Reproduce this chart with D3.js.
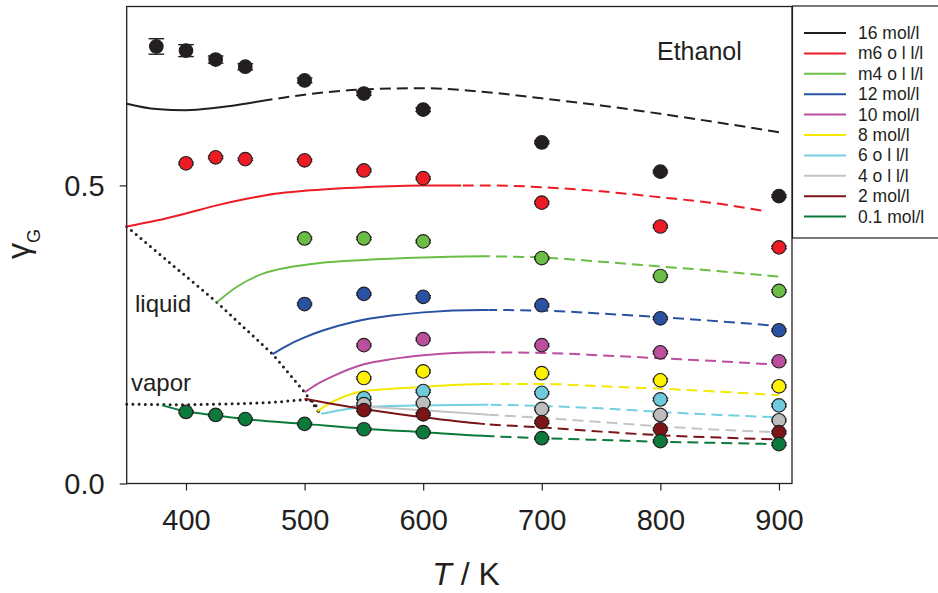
<!DOCTYPE html>
<html><head><meta charset="utf-8">
<script src="https://cdn.jsdelivr.net/npm/d3@7"></script>
<style>
body{margin:0;background:#fff;}
text{font-family:"Liberation Sans",Arial,sans-serif;fill:#231f20;}
</style></head>
<body><svg id="c" width="938" height="593"></svg>
<script>
// ---------- data ----------
const temps = [375,400,425,450,500,550,600,700,800,900];
const labels = ["16 mol/l","m6 o l l/l","m4 o l l/l","12 mol/l","10 mol/l","8 mol/l","6 o l l/l","4 o l l/l","2 mol/l","0.1 mol/l"];
const colors = ["#231f20","#ed1c24","#6abd45","#2a52a3","#bb4f9e","#fff200","#6fcadc","#bdbdbd","#7b1517","#0b7a3b"];
const lineColors = ["#231f20","#ed1c24","#6abd45","#2a52a3","#bb4f9e","#f5e800","#74cfe0","#c4c4c4","#7b1517","#0b7a3b"];

const pBlack   = [0.733,0.726,0.711,0.699,0.676,0.654,0.627,0.572,0.523,0.482];
const pRed     = [null,0.537,0.547,0.544,0.542,0.525,0.512,0.471,0.431,0.396];
const pGreen   = [null,null,null,null,0.411,0.411,0.406,0.378,0.348,0.323];
const pBlue    = [null,null,null,null,0.301,0.318,0.313,0.299,0.277,0.257];
const pMagenta = [null,null,null,null,null,0.232,0.242,0.232,0.220,0.205];
const pYellow  = [null,null,null,null,null,0.177,0.188,0.185,0.173,0.163];
const pCyan    = [null,null,null,null,null,0.143,0.155,0.152,0.141,0.131];
const pGray    = [null,null,null,null,null,0.133,0.135,0.125,0.115,0.106];
const pDarkRed = [null,null,null,null,null,0.123,0.116,0.103,0.091,0.086];
const pDkGreen = [null,0.120,0.115,0.108,0.100,0.091,0.086,0.076,0.071,0.066];

const eBlack   = [0.013,0.010,0.006,0.005,0.004,0.003,0.003,0.002,0.002,0.002];
const eOther   = [0.002,0.002,0.002,0.002,0.002,0.002,0.002,0.002,0.002,0.002];

const cBlack   = [[350,0.637],[375,0.628],[400,0.626],[425,0.630],[450,0.637],[475,0.645],[500,0.652],[550,0.661],[600,0.663],[650,0.657],[700,0.646],[750,0.634],[800,0.620],[850,0.605],[900,0.589]];
const cRed     = [[350,0.431],[375,0.441],[400,0.453],[425,0.466],[450,0.477],[475,0.486],[500,0.491],[550,0.497],[600,0.500],[650,0.500],[700,0.497],[750,0.490],[800,0.480],[850,0.469],[890,0.456]];
const cGreen   = [[426,0.304],[443,0.330],[465,0.352],[485,0.362],[513,0.370],[550,0.375],[600,0.379],[650,0.381],[700,0.379],[750,0.372],[800,0.364],[850,0.356],[900,0.347]];
const cBlue    = [[473,0.217],[485,0.231],[500,0.245],[516,0.257],[541,0.271],[575,0.282],[600,0.287],[650,0.291],[700,0.290],[750,0.285],[800,0.279],[850,0.272],[900,0.264]];
const cMagenta = [[500,0.153],[510,0.166],[525,0.181],[550,0.200],[575,0.209],[600,0.215],[650,0.220],[700,0.219],[750,0.215],[800,0.210],[850,0.205],[900,0.199]];
const cYellow  = [[511,0.121],[520,0.133],[530,0.143],[547,0.154],[575,0.159],[600,0.162],[650,0.167],[700,0.167],[750,0.163],[800,0.159],[850,0.154],[900,0.148]];
const cCyan    = [[514,0.117],[530,0.123],[550,0.128],[600,0.131],[650,0.132],[700,0.130],[750,0.126],[800,0.120],[850,0.115],[900,0.111]];
const cGray    = [[540,0.130],[550,0.129],[600,0.123],[650,0.116],[700,0.110],[750,0.103],[800,0.096],[850,0.090],[900,0.086]];
const cDarkRed = [[500,0.142],[525,0.133],[550,0.125],[600,0.111],[650,0.100],[700,0.094],[750,0.087],[800,0.081],[850,0.077],[900,0.074]];
const cDkGreen = [[380,0.131],[400,0.121],[425,0.114],[450,0.108],[500,0.100],[550,0.092],[600,0.086],[650,0.080],[700,0.076],[750,0.073],[800,0.070],[850,0.068],[900,0.066]];

const splits = [465,632,655,655,655,655,655,655,652,658];

const liquidLine = [[350,0.431],[426,0.304],[473,0.217],[500,0.153],[513,0.117]];
const vaporLine  = [[350,0.133],[400,0.132],[450,0.134],[480,0.137],[500,0.141],[508,0.137],[513,0.117]];

const xTicks = [400,500,600,700,800,900];
const yTicks = [0.0,0.5];

const points = [pBlack,pRed,pGreen,pBlue,pMagenta,pYellow,pCyan,pGray,pDarkRed,pDkGreen];
const errs   = [eBlack,eOther,eOther,eOther,eOther,eOther,eOther,eOther,eOther,eOther];
const curves = [cBlack,cRed,cGreen,cBlue,cMagenta,cYellow,cCyan,cGray,cDarkRed,cDkGreen];

// ---------- drawing ----------
const svg = d3.select("#c");
const L=126.7, R=792, T=6.5, B=483.5;
const x = d3.scaleLinear().domain([350,911]).range([L,R]);
const y = d3.scaleLinear().domain([0,0.8]).range([B,T]);

const defs = svg.append("defs");
curves.forEach((c,i)=>{
  defs.append("clipPath").attr("id","s"+i).append("rect")
    .attr("x",0).attr("y",0).attr("width",x(splits[i])).attr("height",593);
  defs.append("clipPath").attr("id","d"+i).append("rect")
    .attr("x",x(splits[i])).attr("y",0).attr("width",938).attr("height",593);
});

// axes
const xa = svg.append("g").attr("transform",`translate(0,${B})`)
  .call(d3.axisBottom(x).tickValues(xTicks).tickSize(7).tickPadding(19).tickFormat(d3.format("d")));
const ya = svg.append("g").attr("transform",`translate(${L},0)`)
  .call(d3.axisLeft(y).tickValues(yTicks).tickSize(7).tickPadding(15).tickFormat(d3.format(".1f")));
[xa,ya].forEach(a=>{
  a.select(".domain").remove();
  a.selectAll("line").attr("stroke","#231f20").attr("stroke-width",1.2);
  a.selectAll("text").attr("font-size",29).attr("fill","#231f20")
   .attr("font-family","'Liberation Sans',Arial,sans-serif");
});
ya.selectAll("text").attr("dy","0.36em");

// frame
svg.append("rect").attr("x",L).attr("y",T).attr("width",R-L).attr("height",B-T)
  .attr("fill","none").attr("stroke","#231f20").attr("stroke-width",1.3);

// phase lines
const lin = d3.line().x(d=>x(d[0])).y(d=>y(d[1]));
[liquidLine,vaporLine].forEach(p=>{
  svg.append("path").attr("d",lin(p)).attr("fill","none").attr("stroke","#231f20")
    .attr("stroke-width",3).attr("stroke-linecap","round").attr("stroke-dasharray","0,6.2");
});

// model curves
const cl = d3.line().x(d=>x(d[0])).y(d=>y(d[1])).curve(d3.curveMonotoneX);
curves.forEach((c,i)=>{
  svg.append("path").attr("d",cl(c)).attr("fill","none").attr("stroke",lineColors[i])
    .attr("stroke-width",2).attr("clip-path",`url(#s${i})`);
  svg.append("path").attr("d",cl(c)).attr("fill","none").attr("stroke",lineColors[i])
    .attr("stroke-width",2).attr("stroke-dasharray","11,6").attr("clip-path",`url(#d${i})`);
});

// points with error bars
points.forEach((p,i)=>{
  const g = svg.append("g");
  const data = temps.map((t,j)=>({t,v:p[j],e:errs[i][j]})).filter(d=>d.v!==null);
  data.forEach(d=>{
    const cx=x(d.t), y1=y(d.v+d.e), y2=y(d.v-d.e);
    g.append("line").attr("x1",cx).attr("x2",cx).attr("y1",y1).attr("y2",y2).attr("stroke","#231f20").attr("stroke-width",1.2);
    [y1,y2].forEach(yy=>g.append("line").attr("x1",cx-7.8).attr("x2",cx+7.8).attr("y1",yy).attr("y2",yy).attr("stroke","#231f20").attr("stroke-width",1.4));
  });
  g.selectAll("circle").data(data).join("circle")
    .attr("cx",d=>x(d.t)).attr("cy",d=>y(d.v)).attr("r",6.8)
    .attr("fill",colors[i]).attr("stroke","#231f20").attr("stroke-width",1.1);
});

// annotations
svg.append("text").attr("x",657).attr("y",60).attr("font-size",25).text("Ethanol");
svg.append("text").attr("x",135).attr("y",312).attr("font-size",24).text("liquid");
svg.append("text").attr("x",131).attr("y",391).attr("font-size",24).text("vapor");

// axis titles
const yl = svg.append("text").attr("transform","translate(29,244) rotate(-90)")
  .attr("text-anchor","middle").attr("font-size",32);
yl.append("tspan").text("γ");
yl.append("tspan").attr("font-size",18).attr("dy",11).text("G");
const xl = svg.append("text").attr("x",466).attr("y",585).attr("text-anchor","middle").attr("font-size",32);
xl.append("tspan").attr("font-style","italic").text("T");
xl.append("tspan").text(" / K");

// legend
const lg = svg.append("g");
lg.append("rect").attr("x",792.5).attr("y",6).attr("width",150).attr("height",232)
  .attr("fill","#fff").attr("stroke","#231f20").attr("stroke-width",1.2);
labels.forEach((lab,i)=>{
  const yy = 33 + i*20.4;
  lg.append("line").attr("x1",804).attr("x2",846).attr("y1",yy).attr("y2",yy)
    .attr("stroke",lineColors[i]).attr("stroke-width",2);
  lg.append("text").attr("x",858).attr("y",yy+6).attr("font-size",17.5).text(lab);
});
</script></body></html>
